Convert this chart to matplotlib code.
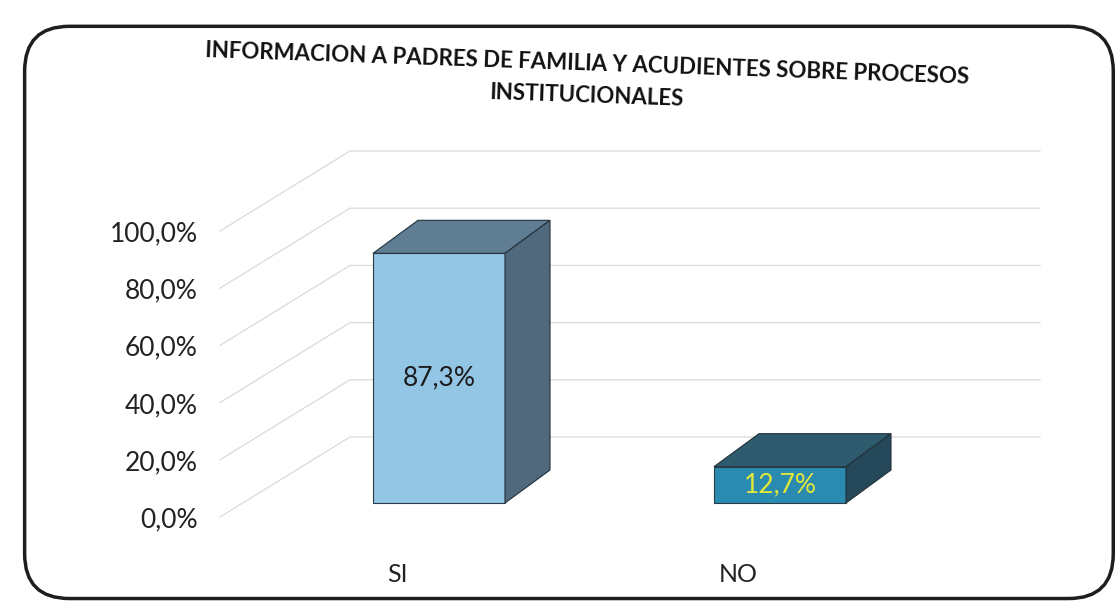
import numpy as np
import matplotlib
matplotlib.use('Agg')
from matplotlib import pyplot as plt
from matplotlib.patches import Polygon, FancyBboxPatch

plt.rcParams['font.family'] = ['Lato', 'DejaVu Sans']

title = 'INFORMACION A PADRES DE FAMILIA Y ACUDIENTES SOBRE PROCESOS\nINSTITUCIONALES'
categories = ['SI', 'NO']
values = [87.3, 12.7]
value_labels = ['87,3%', '12,7%']
tick_values = [0, 20, 40, 60, 80, 100]
tick_labels = ['0,0%', '20,0%', '40,0%', '60,0%', '80,0%', '100,0%']

front_colors = ['#93c5e4', '#2a8ab0']
top_colors = ['#5f7e94', '#2f5b6f']
side_colors = ['#51697c', '#25495a']
label_colors = ['#1c1c1c', '#e2e83a']

W, H = 1120, 612
# pixel scale: one category = 341 px, 1 % = 2.86 px
PXX = 341.0
PXY = 2.86
x0_px = 439      # centre of first bar
y0_px = 503      # bar base (from top)

fig = plt.figure(figsize=(W / 100, H / 100), dpi=100)
ax = fig.add_axes([0, 0, 1, 1])
ax.set_xlim(-x0_px / PXX, (W - x0_px) / PXX)
ax.set_ylim(-(H - y0_px) / PXY, y0_px / PXY)
ax.axis('off')

# outer border
fig.patches.append(FancyBboxPatch((0.022, 0.022), 0.972, 0.935,
                                  boxstyle='round,pad=0,rounding_size=0.04',
                                  transform=fig.transFigure, fill=False,
                                  ec='#1e1e1e', lw=2.5, mutation_aspect=W / H))

# walls / gridlines (side wall diagonals + back wall)
wall_fx = (220 - x0_px) / PXX
wall_bx = (350 - x0_px) / PXX
wall_rx = (1040 - x0_px) / PXX
front_dy = -14 / PXY
back_dy = 66 / PXY
for v in tick_values:
    ax.plot([wall_fx, wall_bx, wall_rx], [v + front_dy, v + back_dy, v + back_dy],
            color='#dadada', lw=0.9, zorder=1)

# y tick labels
for v, t in zip(tick_values, tick_labels):
    ax.text((198 - x0_px) / PXX, v + front_dy - 1, t, ha='right', va='center',
            fontsize=19, color='#222222')

# pseudo 3d bars
x = np.arange(len(categories))
bw = 132 / PXX
ddx = 45 / PXX
ddy = 33 / PXY
ax.bar(x, values, bw, color=front_colors, edgecolor='#2b3a44', lw=0.8, zorder=3)
for i, v in enumerate(values):
    l, r = x[i] - bw / 2, x[i] + bw / 2
    top = [(l, v), (r, v), (r + ddx, v + ddy), (l + ddx, v + ddy)]
    side = [(r, 0), (r + ddx, ddy), (r + ddx, v + ddy), (r, v)]
    ax.add_patch(Polygon(top, closed=True, fc=top_colors[i], ec='#22313a', lw=0.8, zorder=3))
    ax.add_patch(Polygon(side, closed=True, fc=side_colors[i], ec='#22313a', lw=0.8, zorder=3))
    ax.text(x[i], v / 2, value_labels[i], ha='center', va='center',
            fontsize=19, color=label_colors[i], zorder=4)

# category labels
for i, c in enumerate(categories):
    ax.text(x[i] - 42 / PXX, -(575 - y0_px) / PXY, c, ha='center', va='center',
            fontsize=18, color='#222222')

# title
ax.text((587 - x0_px) / PXX, (y0_px - 80) / PXY, title, ha='center', va='center',
        fontsize=16, fontweight='bold', color='#111111', rotation=-2,
        linespacing=1.65)

fig.savefig('out.png', dpi=100)
